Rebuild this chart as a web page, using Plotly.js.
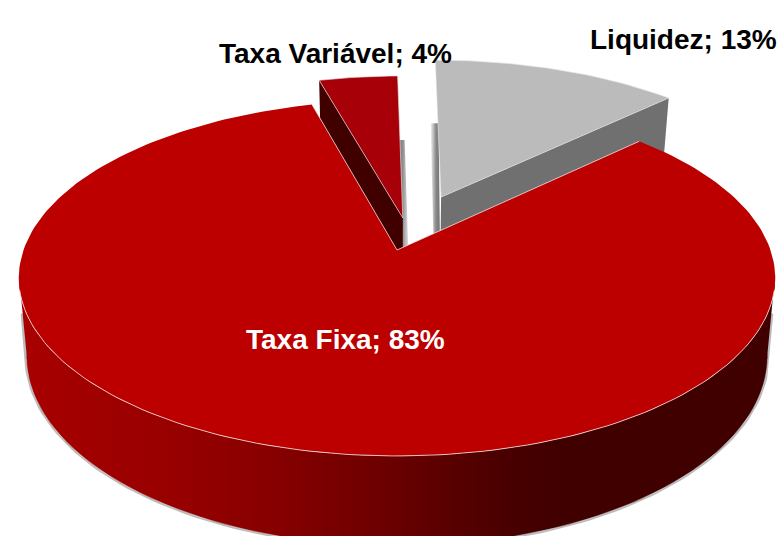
<!DOCTYPE html>
<html>
<head>
<meta charset="utf-8">
<script src="https://cdn.plot.ly/plotly-3.0.1.min.js"></script>
<style>html,body{margin:0;padding:0;background:#fff;overflow:hidden}#chart{width:777px;height:536px}</style>
</head>
<body>
<div id="chart"></div>
<script>
// Data
var categories = ['Liquidez', 'Taxa Fixa', 'Taxa Variável'];
var values = [13, 83, 4];

// Styles
var topColors = ['#BBBBBB', '#BC0000', '#A80008'];
var faceColors = ['#707070', '#400000', '#400000'];
var labelColors = ['#000000', '#FFFFFF', '#000000'];
var labelX = [683, 345, 335.5];
var labelY = [39, 339, 53];
// Explosion of each slice on the pie plane (right, toward the viewer)
var offsetU = [0.124, 0, 0.016];
var offsetV = [-0.32, 0, -0.19];
var firstAngle = -0.8;
var liquidezTrim = 0.8;

// Perspective model of the pie
var cx = 397, cy = 250, R = 373.5, K = 173.6, persp = 0.157, depth = 76, bottomScale = 0.98;
function project(u, v, low) {
  var s = 1 / (1 - persp * v);
  var x = R * u * s, y = K * v * s;
  if (low) { x *= bottomScale; y += depth * s; }
  return [cx + x, cy + y];
}
function rimPoint(i, deg, low) {
  var a = deg * Math.PI / 180;
  return project(offsetU[i] + Math.sin(a), offsetV[i] - Math.cos(a), low);
}
function apex(i, low) { return project(offsetU[i], offsetV[i], low); }
function arc(i, a0, a1, low) {
  var pts = [], n = Math.max(2, Math.ceil(Math.abs(a1 - a0) / 1.5));
  for (var k = 0; k <= n; k++) pts.push(rimPoint(i, a0 + (a1 - a0) * k / n, low));
  return pts;
}
function poly(pts, extra) {
  var t = { type: 'scatter', mode: 'lines', hoverinfo: 'skip', showlegend: false,
    x: pts.map(function (p) { return p ? p[0] : null; }),
    y: pts.map(function (p) { return p ? p[1] : null; }),
    line: { width: 0 } };
  for (var key in extra) t[key] = extra[key];
  return t;
}
function shift(p, dx) { return [p[0] + dx, p[1]]; }
function mid(a, b) { return [(a[0] + b[0]) / 2, (a[1] + b[1]) / 2]; }

// Angular extent of every slice, from the values
var starts = [], ends = [], run = firstAngle;
values.forEach(function (v, i) { starts[i] = run; run += v * 3.6; ends[i] = run; });
starts[0] += liquidezTrim;

var traces = [];
var fade = function (c) { return { type: 'horizontal', colorscale: c }; };

// Soft strips behind the two detached slices
var lTipLow = rimPoint(0, starts[0], true), lApexLow = apex(0, true);
traces.push(poly([shift(lTipLow, 4), lApexLow, shift(lApexLow, -6), shift(lTipLow, -4)], {
  fill: 'toself', fillgradient: fade([[0, '#f4f4f4'], [0.55, '#8a8a8a'], [1, '#707070']]) }));
var vTipLow = rimPoint(2, ends[2], true), vApexLow = apex(2, true);
traces.push(poly([shift(vTipLow, -1), shift(vApexLow, -1), shift(vApexLow, 7), shift(vTipLow, 7)], {
  fill: 'toself', fillgradient: fade([[0, '#707070'], [0.45, '#8c8c8c'], [1, '#f2f2f2']]) }));

// Cut faces of the detached slices
[0, 2].forEach(function (i) {
  var edge = i === 0 ? ends[i] : starts[i];
  traces.push(poly([rimPoint(i, edge, false), apex(i, false), apex(i, true), rimPoint(i, edge, true)], {
    fill: 'toself', fillcolor: faceColors[i] }));
});
// Top faces of the detached slices
[0, 2].forEach(function (i) {
  traces.push(poly(arc(i, starts[i], ends[i], false).concat([apex(i, false), rimPoint(i, starts[i], false)]), {
    fill: 'toself', fillcolor: topColors[i], line: { width: 0.8, color: 'rgba(225,225,225,0.8)' } }));
});

// Main slice: shadow, wall, top face, highlights
var wideL = 262, wideR = 98;
var topL = rimPoint(1, wideL, false), topR = rimPoint(1, wideR, false);
var lowL = rimPoint(1, wideL, true), lowR = rimPoint(1, wideR, true);
traces.push(poly([mid(topR, lowR)].concat(arc(1, wideR, wideL, true), [mid(topL, lowL)]), {
  line: { width: 4, color: 'rgba(120,120,120,0.5)' } }));
var wallTop = arc(1, wideR, wideL, false), wallLow = arc(1, wideL, wideR, true);
traces.push(poly(wallTop.concat(wallLow), {
  fill: 'toself',
  fillgradient: fade([[0, '#A80000'], [0.2, '#980000'], [0.33, '#880000'], [0.5, '#680000'], [0.65, '#480000'], [0.72, '#400000'], [1, '#400000']])
}));
traces.push(poly(arc(1, 100, 260, true), { line: { width: 0.7, color: 'rgba(230,230,230,0.6)' } }));
traces.push(poly(arc(1, starts[1], ends[1], false).concat([apex(1, false)]), {
  fill: 'toself', fillcolor: topColors[1] }));
traces.push(poly(arc(1, 103, 257, false).concat([null, rimPoint(1, starts[1], false), apex(1, false), rimPoint(1, ends[1], false)]), {
  line: { width: 1, color: 'rgba(245,225,225,0.8)' } }));

var annotations = categories.map(function (c, i) {
  return { x: labelX[i], y: labelY[i], xref: 'x', yref: 'y', showarrow: false,
    xanchor: 'center', yanchor: 'middle', text: c + '; ' + values[i] + '%',
    font: { family: 'Liberation Sans, Arial, sans-serif', size: 28, color: labelColors[i], weight: 'bold' } };
});

var layout = {
  width: 777, height: 536, margin: { l: 0, r: 0, t: 0, b: 0 },
  paper_bgcolor: '#ffffff', plot_bgcolor: '#ffffff', showlegend: false,
  xaxis: { range: [0, 777], visible: false, fixedrange: true },
  yaxis: { range: [536, 0], visible: false, fixedrange: true },
  annotations: annotations
};
Plotly.newPlot('chart', traces, layout, { displayModeBar: false, staticPlot: true });
</script>
</body>
</html>
